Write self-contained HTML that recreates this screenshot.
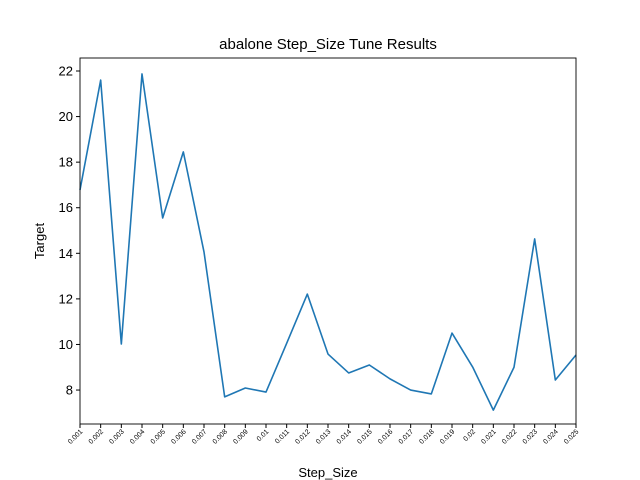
<!DOCTYPE html>
<html><head><meta charset="utf-8"><style>
body{margin:0;background:#fff;}
svg{display:block;font-family:"Liberation Sans",sans-serif;}
</style></head><body>
<svg id="chart" width="640" height="480">
<rect width="640" height="480" fill="#fff"/>
<text x="328" y="49" font-size="15" text-anchor="middle">abalone Step_Size Tune Results</text>
<g id="yticks"></g>
<g id="xticks"></g>
<path id="line" fill="none" stroke="#1f77b4" stroke-width="1.6" stroke-linejoin="round"/>
<rect x="80" y="58" width="496" height="366" fill="none" stroke="#000" stroke-width="0.9"/>
<text x="328" y="477" font-size="13" text-anchor="middle">Step_Size</text>
<text x="0" y="0" font-size="13" text-anchor="middle" transform="translate(44,241) rotate(-90)">Target</text>
</svg>
<script>
const categories=["0.001","0.002","0.003","0.004","0.005","0.006","0.007","0.008","0.009","0.01","0.011","0.012","0.013","0.014","0.015","0.016","0.017","0.018","0.019","0.02","0.021","0.022","0.023","0.024","0.025"];
const values=[16.78,21.6,10.02,21.87,15.55,18.45,14.06,7.7,8.09,7.91,10.05,12.21,9.58,8.75,9.1,8.49,8.0,7.83,10.5,9.01,7.12,9.0,14.63,8.44,9.54];
const yTicks=[8,10,12,14,16,18,20,22];
const ns="http://www.w3.org/2000/svg";
const L=80,R=576,T=58,B=424,yMin=6.51,yMax=22.57;
const x=i=>L+i*(R-L)/(categories.length-1);
const y=v=>B-(v-yMin)/(yMax-yMin)*(B-T);
const yg=document.getElementById('yticks'),xg=document.getElementById('xticks');
yTicks.forEach(t=>{
 const l=document.createElementNS(ns,'line');
 l.setAttribute('x1',L-4);l.setAttribute('x2',L);l.setAttribute('y1',y(t));l.setAttribute('y2',y(t));l.setAttribute('stroke','#000');
 
 
 yg.appendChild(l);
 const tx=document.createElementNS(ns,'text');
 tx.setAttribute('x',L-7);tx.setAttribute('y',y(t)+4.5);tx.setAttribute('font-size','13');tx.setAttribute('text-anchor','end');tx.textContent=t;
 
 
 yg.appendChild(tx);
});
categories.forEach((c,i)=>{
 const l=document.createElementNS(ns,'line');
 l.setAttribute('x1',x(i));l.setAttribute('x2',x(i));l.setAttribute('y1',B);l.setAttribute('y2',B+4);l.setAttribute('stroke','#000');
 
 
 xg.appendChild(l);
 const tx=document.createElementNS(ns,'text');
 tx.setAttribute('font-size','7');tx.setAttribute('text-anchor','end');
 tx.setAttribute('transform','translate('+(x(i)+3)+','+(B+8)+') rotate(-45)');
 tx.textContent=c;
 
 
 xg.appendChild(tx);
});
document.getElementById('line').setAttribute('d',values.map((v,i)=>(i?'L':'M')+x(i).toFixed(2)+' '+y(v).toFixed(2)).join(' '));
</script>
</body></html>
